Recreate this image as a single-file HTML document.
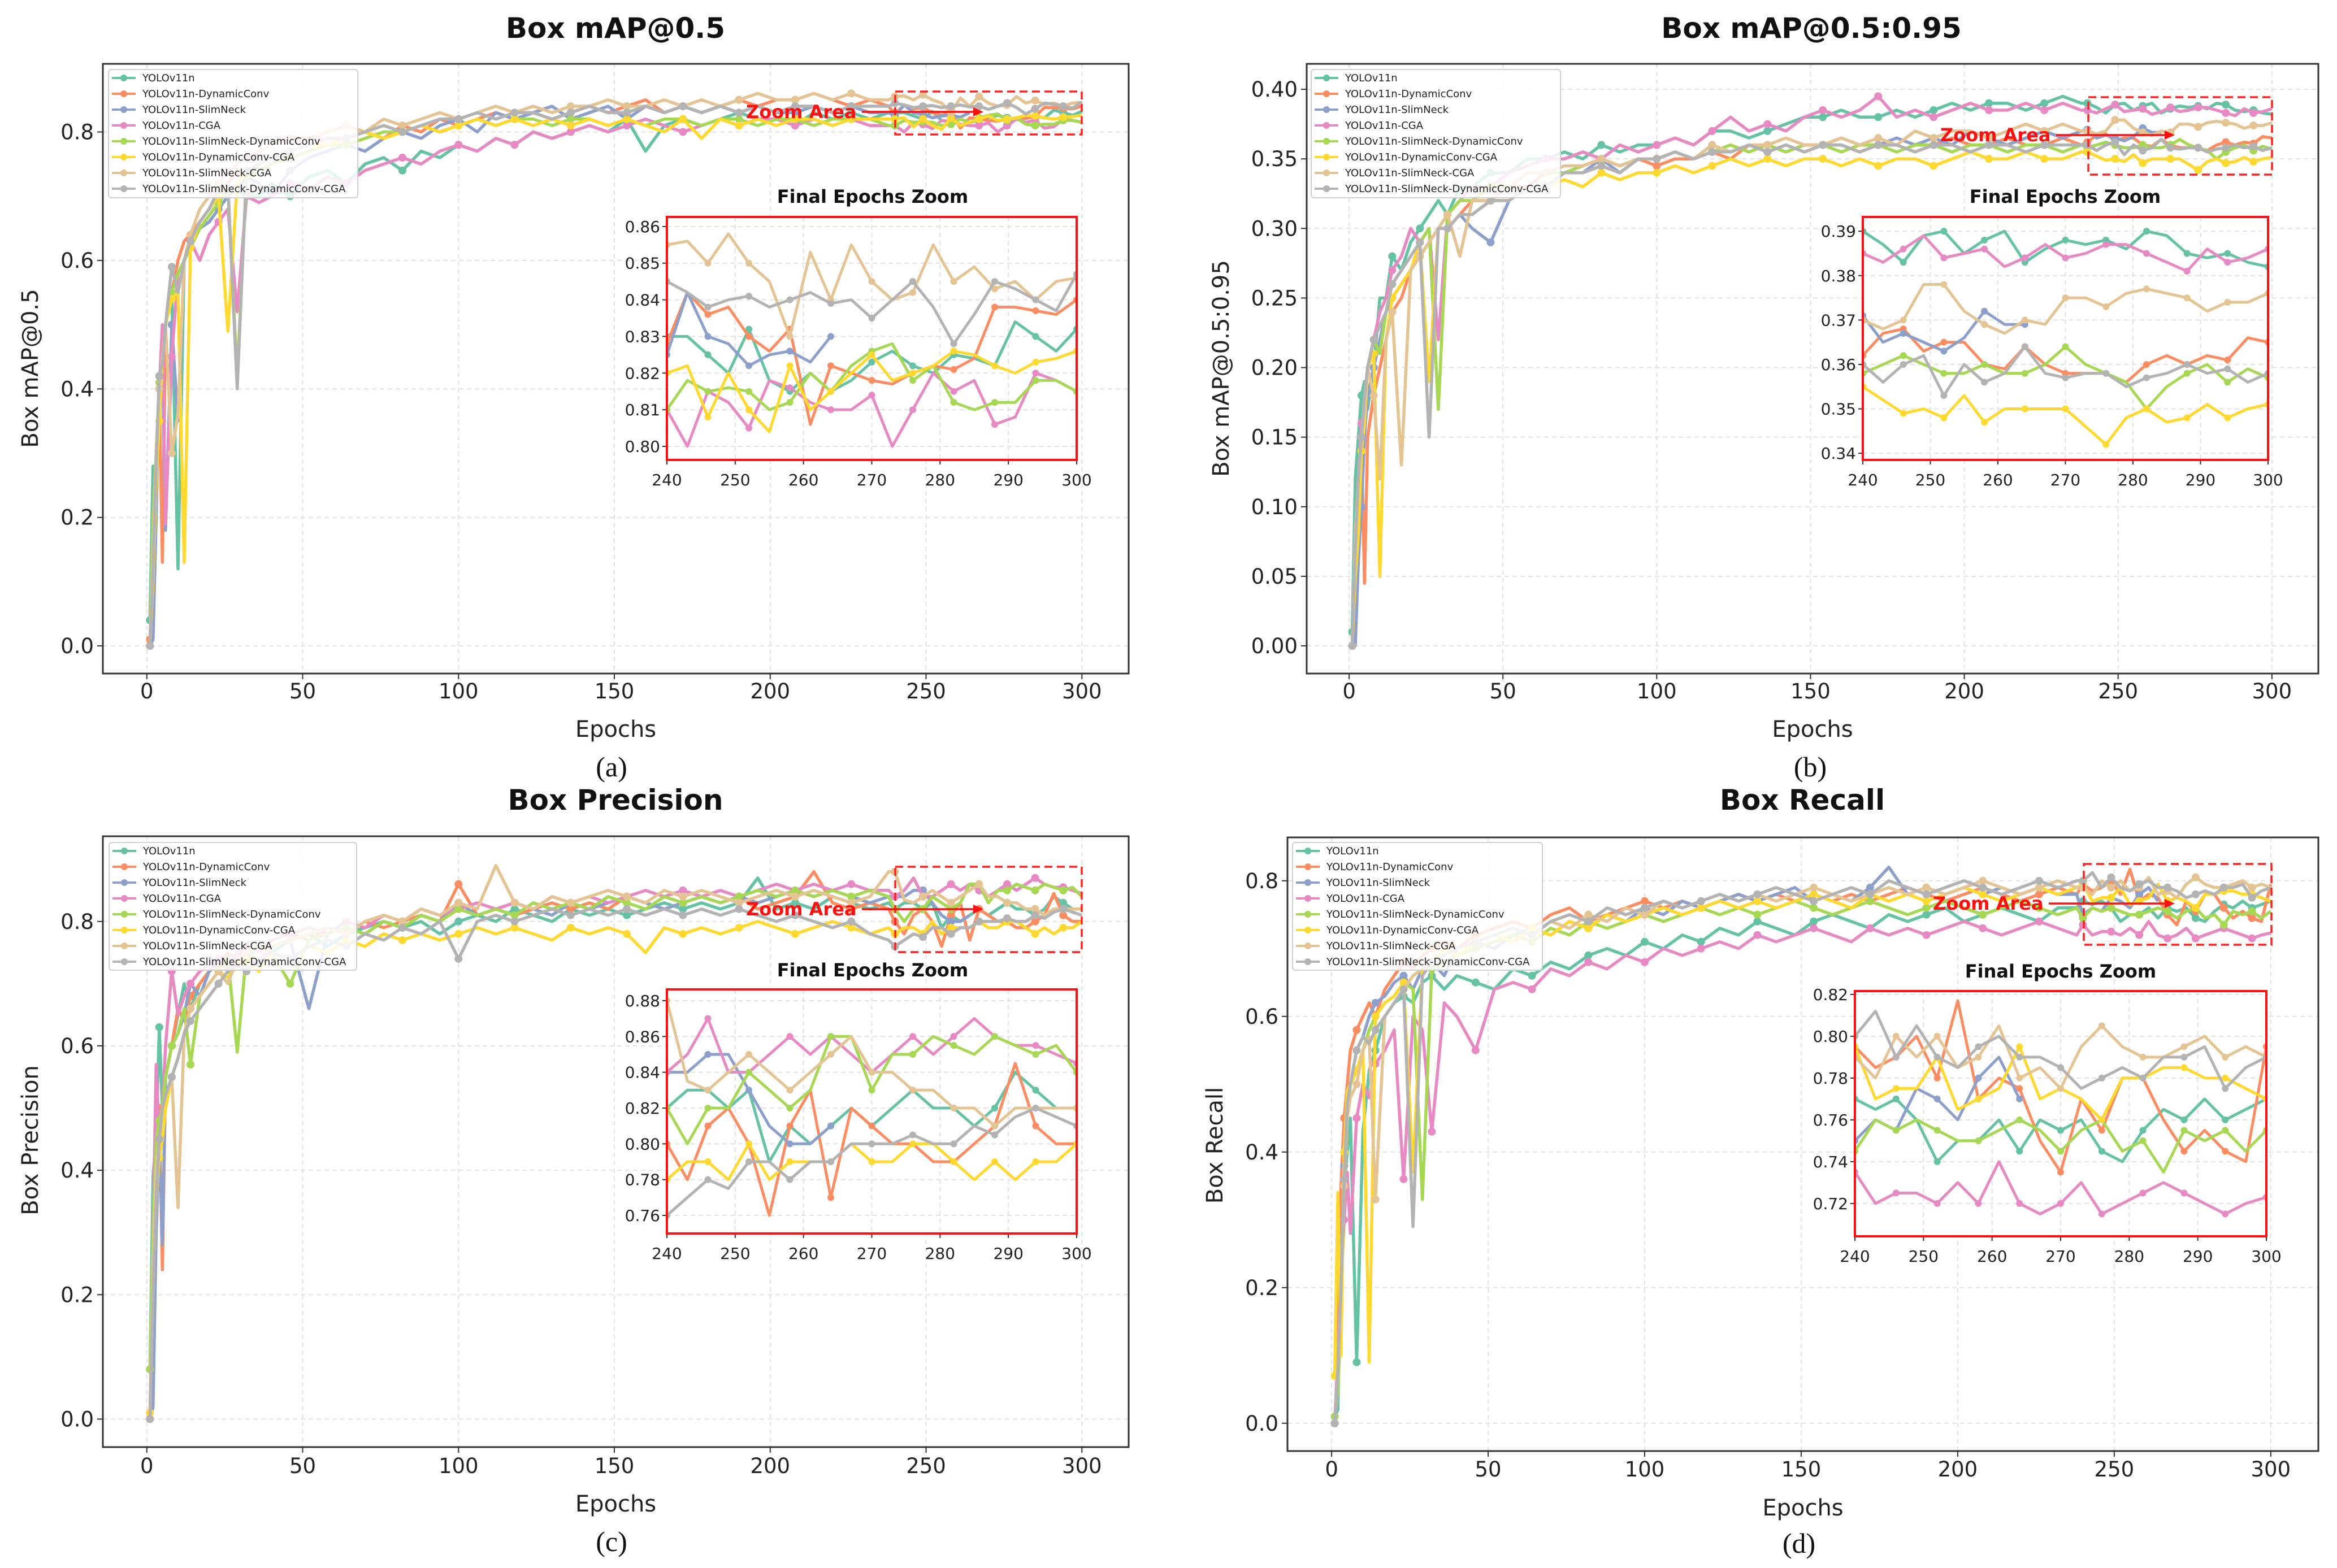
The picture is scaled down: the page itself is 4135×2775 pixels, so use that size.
<!DOCTYPE html>
<html><head><meta charset="utf-8"><style>
html,body{margin:0;padding:0;background:#fff;}
svg{display:block;font-family:"DejaVu Sans","Liberation Sans",sans-serif;}
</style></head><body>
<svg id="fig" width="4135" height="2775" viewBox="0 0 4135 2775" xmlns="http://www.w3.org/2000/svg"></svg>
<script>
const seriesNames = ["YOLOv11n","YOLOv11n-DynamicConv","YOLOv11n-SlimNeck","YOLOv11n-CGA","YOLOv11n-SlimNeck-DynamicConv","YOLOv11n-DynamicConv-CGA","YOLOv11n-SlimNeck-CGA","YOLOv11n-SlimNeck-DynamicConv-CGA"];
const seriesColors = ["#66c2a5","#fc8d62","#8da0cb","#e78ac3","#a6d854","#ffd92f","#e5c494","#b3b3b3"];
const mainEpochs = [1,2,3,4,5,6,8,10,12,14,17,20,23,26,29,32,36,40,46,52,58,64,70,76,82,88,94,100,106,112,118,124,130,136,142,148,154,160,166,172,178,184,190,196,202,208,214,220,226,232,238];
const zoomEpochs = [240,243,246,249,252,255,258,261,264,267,270,273,276,279,282,285,288,291,294,297,300];

const map50Main = [
[0.04,0.28,0.2,0.42,0.45,0.5,0.55,0.12,0.6,0.62,0.65,0.66,0.68,0.7,0.71,0.7,0.7,0.72,0.7,0.73,0.74,0.72,0.75,0.76,0.74,0.77,0.76,0.78,0.77,0.79,0.78,0.8,0.79,0.8,0.81,0.8,0.82,0.77,0.81,0.82,0.81,0.82,0.83,0.82,0.82,0.81,0.83,0.82,0.83,0.82,0.83],
[0.01,0.1,0.3,0.4,0.13,0.5,0.55,0.6,0.63,0.64,0.66,0.68,0.7,0.72,0.74,0.73,0.75,0.76,0.77,0.78,0.78,0.79,0.8,0.79,0.81,0.8,0.82,0.81,0.82,0.83,0.82,0.83,0.82,0.83,0.84,0.83,0.84,0.85,0.83,0.84,0.83,0.84,0.85,0.84,0.85,0.85,0.86,0.85,0.84,0.85,0.84],
[0.0,0.01,0.2,0.42,0.44,0.18,0.5,0.35,0.6,0.62,0.65,0.66,0.68,0.7,0.71,0.73,0.72,0.7,0.74,0.76,0.77,0.78,0.77,0.79,0.8,0.79,0.81,0.82,0.8,0.83,0.82,0.83,0.84,0.82,0.83,0.84,0.82,0.84,0.83,0.84,0.83,0.84,0.83,0.84,0.83,0.83,0.84,0.83,0.84,0.83,0.83],
[0.0,0.15,0.3,0.4,0.5,0.19,0.45,0.58,0.6,0.63,0.6,0.64,0.66,0.68,0.52,0.7,0.69,0.7,0.72,0.71,0.73,0.72,0.74,0.75,0.76,0.75,0.77,0.78,0.77,0.79,0.78,0.8,0.79,0.8,0.81,0.8,0.81,0.82,0.81,0.8,0.81,0.82,0.81,0.82,0.82,0.81,0.82,0.81,0.82,0.81,0.81],
[0.0,0.2,0.3,0.41,0.44,0.5,0.55,0.58,0.6,0.62,0.65,0.67,0.69,0.71,0.42,0.73,0.74,0.75,0.76,0.77,0.78,0.78,0.79,0.8,0.8,0.81,0.8,0.81,0.82,0.81,0.82,0.82,0.81,0.82,0.82,0.81,0.82,0.81,0.82,0.82,0.81,0.82,0.82,0.81,0.82,0.82,0.81,0.82,0.82,0.82,0.81],
[0.0,0.1,0.25,0.35,0.45,0.5,0.54,0.55,0.13,0.62,0.66,0.68,0.7,0.49,0.72,0.74,0.75,0.76,0.77,0.78,0.78,0.79,0.8,0.79,0.8,0.81,0.8,0.81,0.82,0.81,0.82,0.81,0.82,0.81,0.82,0.81,0.82,0.81,0.8,0.82,0.79,0.82,0.81,0.82,0.81,0.82,0.82,0.81,0.82,0.82,0.82],
[0.0,0.15,0.3,0.4,0.45,0.5,0.3,0.36,0.6,0.64,0.68,0.7,0.72,0.74,0.75,0.76,0.77,0.78,0.79,0.79,0.8,0.81,0.8,0.82,0.81,0.82,0.83,0.82,0.83,0.84,0.83,0.84,0.83,0.84,0.84,0.85,0.84,0.84,0.85,0.84,0.85,0.84,0.85,0.86,0.85,0.85,0.86,0.85,0.86,0.85,0.85],
[0.0,0.12,0.28,0.42,0.44,0.5,0.59,0.55,0.6,0.63,0.66,0.68,0.71,0.72,0.4,0.74,0.75,0.76,0.77,0.78,0.79,0.79,0.8,0.81,0.8,0.81,0.82,0.82,0.83,0.82,0.83,0.83,0.82,0.83,0.84,0.83,0.83,0.84,0.83,0.84,0.83,0.84,0.83,0.84,0.83,0.84,0.84,0.83,0.84,0.84,0.84]];
const map50Zoom = [
[0.83,0.83,0.825,0.82,0.832,0.818,0.815,0.82,0.815,0.818,0.823,0.826,0.822,0.82,0.825,0.824,0.822,0.834,0.83,0.826,0.832],
[0.828,0.842,0.836,0.838,0.83,0.826,0.832,0.806,0.822,0.82,0.818,0.817,0.82,0.822,0.821,0.824,0.838,0.838,0.837,0.836,0.84],
[0.825,0.842,0.83,0.828,0.822,0.825,0.826,0.823,0.83],
[0.81,0.8,0.815,0.812,0.805,0.818,0.816,0.812,0.81,0.81,0.814,0.8,0.81,0.82,0.815,0.818,0.806,0.808,0.82,0.818,0.815],
[0.81,0.818,0.815,0.816,0.815,0.81,0.812,0.82,0.815,0.822,0.826,0.828,0.818,0.822,0.812,0.81,0.812,0.812,0.818,0.818,0.815],
[0.82,0.822,0.808,0.82,0.81,0.804,0.822,0.81,0.815,0.82,0.825,0.818,0.82,0.822,0.826,0.825,0.822,0.82,0.823,0.824,0.826],
[0.855,0.856,0.85,0.858,0.85,0.845,0.83,0.853,0.84,0.855,0.845,0.84,0.842,0.855,0.845,0.849,0.843,0.845,0.84,0.845,0.846],
[0.845,0.842,0.838,0.84,0.841,0.838,0.84,0.842,0.839,0.84,0.835,0.84,0.845,0.838,0.828,0.836,0.845,0.843,0.84,0.837,0.847]];

const map5095Main = [
[0.01,0.12,0.15,0.18,0.19,0.17,0.2,0.25,0.25,0.28,0.27,0.29,0.3,0.31,0.32,0.31,0.33,0.33,0.34,0.34,0.35,0.35,0.355,0.35,0.36,0.355,0.36,0.36,0.365,0.36,0.37,0.37,0.365,0.37,0.375,0.38,0.38,0.385,0.38,0.38,0.385,0.38,0.385,0.39,0.385,0.39,0.39,0.385,0.39,0.395,0.39],
[0.0,0.04,0.1,0.15,0.045,0.15,0.18,0.2,0.22,0.24,0.25,0.27,0.28,0.29,0.3,0.3,0.31,0.32,0.32,0.33,0.33,0.34,0.34,0.34,0.345,0.34,0.35,0.345,0.35,0.35,0.355,0.35,0.36,0.355,0.36,0.355,0.36,0.36,0.355,0.36,0.36,0.355,0.36,0.365,0.36,0.36,0.365,0.36,0.36,0.365,0.36],
[0.0,0.0,0.06,0.1,0.15,0.18,0.2,0.22,0.24,0.25,0.26,0.27,0.28,0.29,0.3,0.3,0.31,0.3,0.29,0.32,0.33,0.33,0.34,0.34,0.35,0.34,0.35,0.35,0.355,0.35,0.36,0.355,0.36,0.36,0.355,0.36,0.36,0.365,0.36,0.36,0.365,0.36,0.365,0.36,0.37,0.365,0.36,0.365,0.37,0.365,0.37],
[0.0,0.08,0.12,0.16,0.17,0.2,0.22,0.24,0.25,0.27,0.28,0.3,0.29,0.3,0.22,0.31,0.32,0.33,0.33,0.34,0.345,0.35,0.35,0.355,0.35,0.36,0.355,0.36,0.365,0.36,0.37,0.38,0.37,0.375,0.37,0.38,0.385,0.38,0.385,0.395,0.38,0.385,0.38,0.385,0.39,0.385,0.385,0.39,0.385,0.39,0.385],
[0.0,0.05,0.1,0.15,0.17,0.2,0.22,0.21,0.24,0.26,0.27,0.28,0.29,0.3,0.17,0.31,0.32,0.32,0.33,0.33,0.34,0.34,0.34,0.345,0.35,0.345,0.35,0.35,0.355,0.35,0.355,0.36,0.355,0.36,0.355,0.36,0.36,0.355,0.36,0.36,0.355,0.36,0.36,0.355,0.36,0.36,0.355,0.36,0.36,0.355,0.36],
[0.0,0.05,0.08,0.14,0.16,0.2,0.21,0.05,0.22,0.25,0.26,0.27,0.29,0.19,0.3,0.3,0.31,0.31,0.32,0.32,0.33,0.33,0.335,0.33,0.34,0.335,0.34,0.34,0.345,0.34,0.345,0.35,0.345,0.35,0.345,0.35,0.35,0.345,0.35,0.345,0.35,0.35,0.345,0.35,0.355,0.35,0.35,0.355,0.35,0.35,0.355],
[0.0,0.08,0.12,0.15,0.17,0.2,0.18,0.12,0.22,0.24,0.13,0.27,0.28,0.29,0.3,0.31,0.28,0.32,0.32,0.33,0.34,0.34,0.345,0.345,0.35,0.345,0.35,0.35,0.355,0.35,0.36,0.355,0.36,0.36,0.365,0.36,0.36,0.365,0.36,0.365,0.36,0.37,0.365,0.37,0.37,0.365,0.37,0.375,0.37,0.375,0.37],
[0.0,0.07,0.12,0.15,0.18,0.2,0.22,0.23,0.24,0.26,0.27,0.28,0.29,0.15,0.3,0.3,0.31,0.31,0.32,0.32,0.33,0.33,0.34,0.34,0.345,0.34,0.35,0.35,0.355,0.35,0.355,0.355,0.36,0.355,0.36,0.355,0.36,0.36,0.355,0.36,0.36,0.355,0.36,0.36,0.355,0.36,0.36,0.355,0.36,0.36,0.36]];
const map5095Zoom = [
[0.39,0.387,0.383,0.389,0.39,0.385,0.388,0.39,0.383,0.386,0.388,0.387,0.388,0.386,0.39,0.389,0.385,0.384,0.385,0.383,0.382],
[0.362,0.367,0.368,0.363,0.365,0.365,0.36,0.359,0.364,0.36,0.358,0.358,0.358,0.356,0.36,0.362,0.36,0.362,0.361,0.366,0.365],
[0.371,0.365,0.367,0.365,0.363,0.366,0.372,0.369,0.369],
[0.385,0.383,0.386,0.389,0.384,0.385,0.386,0.382,0.384,0.387,0.384,0.385,0.387,0.387,0.385,0.383,0.381,0.386,0.383,0.384,0.386],
[0.358,0.36,0.362,0.36,0.358,0.358,0.36,0.358,0.358,0.36,0.364,0.36,0.358,0.356,0.35,0.355,0.358,0.36,0.356,0.359,0.357],
[0.355,0.352,0.349,0.35,0.348,0.353,0.347,0.35,0.35,0.35,0.35,0.346,0.342,0.348,0.35,0.347,0.348,0.351,0.348,0.35,0.351],
[0.37,0.368,0.37,0.378,0.378,0.372,0.369,0.367,0.37,0.369,0.375,0.375,0.373,0.376,0.377,0.376,0.375,0.372,0.374,0.374,0.376],
[0.36,0.356,0.36,0.362,0.353,0.36,0.356,0.358,0.364,0.358,0.357,0.358,0.358,0.355,0.357,0.358,0.36,0.358,0.359,0.356,0.358]];

const precMain = [
[0.08,0.39,0.45,0.63,0.5,0.55,0.6,0.65,0.7,0.66,0.7,0.72,0.74,0.73,0.75,0.74,0.76,0.75,0.77,0.78,0.76,0.78,0.79,0.8,0.79,0.8,0.78,0.8,0.81,0.8,0.82,0.81,0.8,0.82,0.81,0.82,0.81,0.82,0.83,0.82,0.83,0.82,0.83,0.87,0.82,0.83,0.82,0.84,0.83,0.82,0.83],
[0.01,0.2,0.4,0.5,0.24,0.55,0.6,0.66,0.64,0.68,0.7,0.72,0.73,0.75,0.74,0.76,0.75,0.77,0.78,0.77,0.79,0.78,0.8,0.79,0.8,0.81,0.8,0.86,0.81,0.82,0.81,0.82,0.83,0.82,0.83,0.82,0.84,0.83,0.82,0.83,0.84,0.83,0.84,0.82,0.83,0.84,0.88,0.83,0.82,0.83,0.82],
[0.0,0.02,0.3,0.45,0.28,0.55,0.6,0.62,0.65,0.7,0.68,0.72,0.74,0.73,0.75,0.74,0.73,0.76,0.77,0.66,0.78,0.79,0.78,0.8,0.79,0.81,0.8,0.83,0.81,0.82,0.83,0.82,0.81,0.83,0.82,0.83,0.84,0.83,0.82,0.83,0.84,0.83,0.84,0.83,0.84,0.85,0.84,0.85,0.84,0.83,0.84],
[0.0,0.3,0.57,0.45,0.5,0.6,0.72,0.65,0.68,0.7,0.72,0.73,0.74,0.72,0.75,0.76,0.75,0.77,0.78,0.79,0.78,0.8,0.79,0.81,0.8,0.82,0.81,0.82,0.83,0.82,0.83,0.82,0.84,0.83,0.84,0.83,0.84,0.85,0.84,0.85,0.84,0.85,0.84,0.85,0.86,0.85,0.86,0.85,0.86,0.85,0.85],
[0.08,0.3,0.45,0.48,0.5,0.55,0.6,0.62,0.66,0.57,0.68,0.7,0.72,0.74,0.59,0.75,0.76,0.75,0.7,0.77,0.78,0.79,0.78,0.8,0.79,0.81,0.8,0.82,0.81,0.82,0.81,0.83,0.82,0.83,0.82,0.84,0.83,0.82,0.84,0.83,0.84,0.83,0.84,0.85,0.84,0.85,0.84,0.85,0.84,0.85,0.84],
[0.01,0.2,0.35,0.42,0.45,0.5,0.55,0.58,0.62,0.66,0.68,0.7,0.72,0.71,0.73,0.74,0.72,0.75,0.74,0.76,0.75,0.77,0.76,0.78,0.77,0.78,0.77,0.78,0.79,0.78,0.79,0.78,0.77,0.79,0.78,0.79,0.78,0.75,0.79,0.78,0.79,0.78,0.79,0.8,0.79,0.78,0.79,0.8,0.79,0.78,0.79],
[0.0,0.25,0.4,0.45,0.5,0.52,0.55,0.34,0.62,0.66,0.68,0.7,0.72,0.7,0.74,0.75,0.74,0.76,0.77,0.78,0.79,0.78,0.8,0.81,0.8,0.82,0.81,0.83,0.82,0.89,0.83,0.82,0.84,0.83,0.84,0.85,0.84,0.83,0.85,0.84,0.85,0.84,0.83,0.84,0.85,0.84,0.85,0.84,0.83,0.84,0.88],
[0.0,0.2,0.35,0.45,0.5,0.52,0.55,0.58,0.62,0.64,0.66,0.68,0.7,0.72,0.73,0.72,0.74,0.75,0.74,0.76,0.77,0.76,0.78,0.77,0.79,0.78,0.8,0.74,0.8,0.81,0.8,0.81,0.82,0.81,0.82,0.81,0.82,0.81,0.82,0.81,0.82,0.81,0.82,0.81,0.8,0.81,0.8,0.79,0.8,0.78,0.77]];
const precZoom = [
[0.82,0.83,0.83,0.82,0.83,0.79,0.81,0.8,0.81,0.82,0.81,0.82,0.83,0.82,0.82,0.81,0.82,0.84,0.83,0.82,0.82],
[0.8,0.78,0.81,0.82,0.8,0.76,0.81,0.83,0.77,0.82,0.81,0.8,0.8,0.79,0.79,0.8,0.81,0.845,0.81,0.8,0.8],
[0.84,0.84,0.85,0.85,0.83,0.81,0.8,0.8,0.81],
[0.84,0.85,0.87,0.84,0.84,0.85,0.86,0.85,0.86,0.85,0.84,0.85,0.86,0.85,0.86,0.87,0.86,0.855,0.855,0.85,0.845],
[0.82,0.8,0.82,0.82,0.84,0.83,0.82,0.83,0.86,0.86,0.83,0.85,0.85,0.86,0.855,0.85,0.86,0.855,0.85,0.855,0.84],
[0.78,0.79,0.79,0.78,0.8,0.78,0.79,0.79,0.79,0.8,0.79,0.79,0.8,0.8,0.79,0.78,0.79,0.78,0.79,0.79,0.8],
[0.88,0.835,0.83,0.84,0.85,0.84,0.83,0.84,0.85,0.86,0.84,0.84,0.83,0.83,0.82,0.82,0.81,0.82,0.82,0.82,0.82],
[0.76,0.77,0.78,0.775,0.79,0.79,0.78,0.79,0.79,0.8,0.8,0.8,0.805,0.8,0.8,0.81,0.805,0.815,0.82,0.815,0.81]];

const recMain = [
[0.01,0.02,0.3,0.35,0.4,0.45,0.09,0.43,0.52,0.55,0.6,0.62,0.63,0.62,0.65,0.66,0.64,0.66,0.65,0.64,0.67,0.66,0.68,0.67,0.69,0.7,0.69,0.71,0.7,0.72,0.71,0.73,0.72,0.74,0.73,0.72,0.74,0.75,0.74,0.73,0.75,0.74,0.75,0.76,0.74,0.75,0.76,0.75,0.74,0.76,0.76],
[0.0,0.1,0.35,0.45,0.5,0.55,0.58,0.6,0.62,0.6,0.64,0.66,0.68,0.67,0.69,0.7,0.71,0.7,0.72,0.73,0.74,0.73,0.75,0.76,0.74,0.75,0.76,0.77,0.76,0.77,0.76,0.77,0.78,0.77,0.78,0.77,0.78,0.77,0.78,0.77,0.78,0.79,0.78,0.77,0.78,0.79,0.78,0.77,0.78,0.79,0.78],
[0.0,0.05,0.2,0.38,0.45,0.5,0.55,0.57,0.6,0.62,0.63,0.65,0.66,0.64,0.67,0.68,0.66,0.7,0.71,0.7,0.72,0.73,0.72,0.74,0.73,0.75,0.74,0.76,0.75,0.77,0.76,0.77,0.78,0.77,0.78,0.79,0.77,0.78,0.77,0.79,0.82,0.78,0.79,0.78,0.79,0.78,0.79,0.78,0.79,0.78,0.78],
[0.0,0.1,0.2,0.3,0.37,0.28,0.45,0.5,0.48,0.53,0.55,0.58,0.36,0.6,0.58,0.43,0.62,0.6,0.55,0.64,0.65,0.64,0.67,0.66,0.68,0.67,0.69,0.68,0.7,0.69,0.7,0.71,0.7,0.72,0.71,0.72,0.73,0.72,0.71,0.73,0.72,0.73,0.72,0.73,0.74,0.73,0.72,0.73,0.74,0.73,0.72],
[0.01,0.05,0.15,0.35,0.45,0.5,0.52,0.55,0.58,0.6,0.62,0.63,0.65,0.64,0.33,0.67,0.68,0.69,0.7,0.71,0.72,0.71,0.73,0.72,0.74,0.73,0.74,0.75,0.74,0.75,0.76,0.75,0.76,0.75,0.76,0.77,0.76,0.75,0.76,0.77,0.76,0.75,0.76,0.77,0.76,0.75,0.76,0.77,0.76,0.75,0.76],
[0.07,0.34,0.1,0.4,0.49,0.5,0.52,0.55,0.09,0.6,0.62,0.63,0.65,0.37,0.67,0.68,0.7,0.69,0.71,0.72,0.71,0.73,0.72,0.74,0.73,0.75,0.74,0.75,0.76,0.75,0.76,0.77,0.76,0.77,0.76,0.77,0.78,0.77,0.76,0.78,0.77,0.78,0.77,0.78,0.79,0.78,0.77,0.78,0.79,0.78,0.79],
[0.0,0.08,0.2,0.35,0.45,0.48,0.5,0.55,0.57,0.33,0.6,0.62,0.64,0.66,0.67,0.68,0.69,0.7,0.71,0.72,0.73,0.72,0.74,0.73,0.75,0.74,0.76,0.75,0.77,0.76,0.77,0.78,0.77,0.78,0.77,0.78,0.79,0.78,0.77,0.78,0.79,0.78,0.79,0.78,0.79,0.8,0.79,0.78,0.79,0.8,0.79],
[0.0,0.08,0.2,0.36,0.47,0.5,0.55,0.57,0.56,0.58,0.6,0.62,0.64,0.29,0.66,0.68,0.69,0.7,0.71,0.72,0.73,0.72,0.74,0.75,0.74,0.76,0.75,0.76,0.77,0.76,0.77,0.78,0.77,0.78,0.79,0.78,0.77,0.78,0.79,0.78,0.8,0.79,0.78,0.79,0.8,0.79,0.78,0.79,0.8,0.79,0.8]];
const recZoom = [
[0.77,0.765,0.77,0.76,0.74,0.75,0.75,0.76,0.745,0.76,0.755,0.76,0.745,0.74,0.755,0.765,0.76,0.77,0.76,0.765,0.77],
[0.795,0.785,0.79,0.8,0.78,0.817,0.77,0.78,0.775,0.75,0.735,0.77,0.755,0.78,0.78,0.76,0.745,0.755,0.745,0.74,0.795],
[0.75,0.76,0.755,0.775,0.77,0.76,0.78,0.79,0.77],
[0.735,0.72,0.725,0.725,0.72,0.73,0.72,0.74,0.72,0.715,0.72,0.73,0.715,0.72,0.725,0.73,0.725,0.72,0.715,0.72,0.723],
[0.745,0.76,0.755,0.76,0.755,0.75,0.75,0.755,0.76,0.755,0.745,0.755,0.76,0.745,0.75,0.735,0.755,0.75,0.755,0.745,0.755],
[0.795,0.77,0.775,0.775,0.79,0.765,0.77,0.775,0.795,0.77,0.775,0.77,0.76,0.78,0.78,0.785,0.785,0.78,0.78,0.775,0.77],
[0.79,0.78,0.8,0.79,0.8,0.785,0.79,0.805,0.78,0.785,0.775,0.795,0.805,0.795,0.79,0.79,0.795,0.8,0.79,0.795,0.79],
[0.8,0.812,0.79,0.805,0.79,0.785,0.795,0.8,0.79,0.79,0.785,0.775,0.78,0.785,0.78,0.79,0.79,0.795,0.775,0.785,0.79]];

const xTicks = [0,50,100,150,200,250,300];
const zoomXTicks = [240,250,260,270,280,290,300];
const map50YTicks = [0.0,0.2,0.4,0.6,0.8];
const map5095YTicks = [0.00,0.05,0.10,0.15,0.20,0.25,0.30,0.35,0.40];
const precYTicks = [0.0,0.2,0.4,0.6,0.8];
const recYTicks = [0.0,0.2,0.4,0.6,0.8];
const map50ZoomYTicks = [0.80,0.81,0.82,0.83,0.84,0.85,0.86];
const map5095ZoomYTicks = [0.34,0.35,0.36,0.37,0.38,0.39];
const precZoomYTicks = [0.76,0.78,0.80,0.82,0.84,0.86,0.88];
const recZoomYTicks = [0.72,0.74,0.76,0.78,0.80,0.82];

const NS = "http://www.w3.org/2000/svg";
const fig = document.getElementById("fig");
function mk(tag, attrs, parent, text){
  const e = document.createElementNS(NS, tag);
  for (const k in attrs) e.setAttribute(k, attrs[k]);
  if (text !== undefined) e.textContent = text;
  (parent || fig).appendChild(e);
  return e;
}

const panels = [
 {key:"map50", title:"Box mAP@0.5", ylabel:"Box mAP@0.5", sub:"(a)", main:map50Main, zoom:map50Zoom, yt:map50YTicks, zyt:map50ZoomYTicks, dec:1, zdec:2,
  L:182,R:1997,T:113,B:1192, xmin:-14.1,xmax:315, ymin:-0.043,ymax:0.906,
  iL:1180,iR:1905,iT:384,iB:814, iymin:0.7963, iymax:0.8626,
  zr:[1584,162,1914,238], zt:[1320,198], za:[1525,1740], titleX:1089,titleY:49, tickY:1223, xlabY:1290, subX:1082, subY:1357, ylabX:53, ylabY:652, itX:1544, itY:348,
  leg:[192,123,633,350]},
 {key:"map5095", title:"Box mAP@0.5:0.95", ylabel:"Box mAP@0.5:0.95", sub:"(b)", main:map5095Main, zoom:map5095Zoom, yt:map5095YTicks, zyt:map5095ZoomYTicks, dec:2, zdec:2,
  L:2312,R:4102,T:113,B:1192, xmin:-13.8,xmax:315.1, ymin:-0.0199,ymax:0.4183,
  iL:3296,iR:4013,iT:384,iB:814, iymin:0.3385, iymax:0.3932,
  zr:[3695,172,4020,309], zt:[3433,239], za:[3638,3848], titleX:3205,titleY:49, tickY:1223, xlabY:1290, subX:3203, subY:1357, ylabX:2160, ylabY:652, itX:3654, itY:348,
  leg:[2320,123,2761,350]},
 {key:"prec", title:"Box Precision", ylabel:"Box Precision", sub:"(c)", main:precMain, zoom:precZoom, yt:precYTicks, zyt:precZoomYTicks, dec:1, zdec:2,
  L:182,R:1997,T:1480,B:2561, xmin:-14.1,xmax:315, ymin:-0.045,ymax:0.937,
  iL:1180,iR:1905,iT:1751,iB:2183, iymin:0.7499, iymax:0.8863,
  zr:[1584,1534,1914,1685], zt:[1320,1609], za:[1525,1740], titleX:1089,titleY:1415, tickY:2594, xlabY:2661, subX:1082, subY:2728, ylabX:53, ylabY:2018, itX:1544, itY:1717,
  leg:[193,1491,631,1717]},
 {key:"rec", title:"Box Recall", ylabel:"Box Recall", sub:"(d)", main:recMain, zoom:recZoom, yt:recYTicks, zyt:recZoomYTicks, dec:1, zdec:2,
  L:2278,R:4102,T:1482,B:2568, xmin:-14.1,xmax:315.2, ymin:-0.041,ymax:0.864,
  iL:3282,iR:4010,iT:1754,iB:2188, iymin:0.7043, iymax:0.8216,
  zr:[3687,1529,4019,1672], zt:[3420,1599], za:[3625,3848], titleX:3189,titleY:1415, tickY:2600, xlabY:2668, subX:3183, subY:2731, ylabX:2149, ylabY:2027, itX:3646, itY:1719,
  leg:[2287,1491,2729,1717]}
];

function pathFrom(xs, ys, sx, sy){
  let d = "";
  for (let i=0;i<ys.length;i++){ d += (i?"L":"M") + sx(xs[i]).toFixed(1) + "," + sy(ys[i]).toFixed(1); }
  return d;
}

panels.forEach(p => {
  const g = mk("g", {});
  
  
  const sx = v => p.L + (v - p.xmin) / (p.xmax - p.xmin) * (p.R - p.L);
  const sy = v => p.B - (v - p.ymin) / (p.ymax - p.ymin) * (p.B - p.T);
  const clipId = "clip-" + p.key;
  const cp = mk("clipPath", {id: clipId}, g);
  mk("rect", {x:p.L, y:p.T, width:p.R-p.L, height:p.B-p.T}, cp);

  xTicks.forEach(t => {
    const l = mk("line", {x1:sx(t), x2:sx(t), y1:p.T, y2:p.B, stroke:"#e2e2e2", "stroke-width":2, "stroke-dasharray":"8,6"}, g);
    
    
  });
  p.yt.forEach(t => {
    const l = mk("line", {x1:p.L, x2:p.R, y1:sy(t), y2:sy(t), stroke:"#e2e2e2", "stroke-width":2, "stroke-dasharray":"8,6"}, g);
    
    
  });

  const sg = mk("g", {"clip-path":"url(#"+clipId+")"}, g);
  p.main.forEach((vals, si) => {
    const z = p.zoom[si];
    const xs = mainEpochs.concat(zoomEpochs.slice(0, z.length));
    const ys = vals.concat(z);
    const path = mk("path", {d:pathFrom(xs, ys, sx, sy), fill:"none", stroke:seriesColors[si], "stroke-width":5.5, "stroke-linejoin":"round"}, sg);
    
    
    for (let i=0;i<xs.length;i+=3){
      const c = mk("circle", {cx:sx(xs[i]), cy:sy(ys[i]), r:7, fill:seriesColors[si]}, sg);
      
      
    }
  });

  const fr = mk("rect", {x:p.L, y:p.T, width:p.R-p.L, height:p.B-p.T, fill:"none", stroke:"#333", "stroke-width":3}, g);
  
  

  xTicks.forEach(t => {
    mk("line", {x1:sx(t), x2:sx(t), y1:p.B, y2:p.B+10, stroke:"#333", "stroke-width":2}, g);
    const tx = mk("text", {x:sx(t), y:p.tickY+13, "font-size":37, "text-anchor":"middle", fill:"#222"}, g, String(t));
    
    
  });
  p.yt.forEach(t => {
    mk("line", {x1:p.L-10, x2:p.L, y1:sy(t), y2:sy(t), stroke:"#333", "stroke-width":2}, g);
    const tx = mk("text", {x:p.L-16, y:sy(t)+13, "font-size":37, "text-anchor":"end", fill:"#222"}, g, t.toFixed(p.dec));
    
    
  });

  const ti = mk("text", {x:p.titleX, y:p.titleY+18, "font-size":50, "font-weight":"bold", "text-anchor":"middle", fill:"#111"}, g, p.title);
  
  
  const xl = mk("text", {x:(p.L+p.R)/2, y:p.xlabY+14, "font-size":40, "text-anchor":"middle", fill:"#222"}, g, "Epochs");
  
  
  const yl = mk("text", {x:p.ylabX, y:p.ylabY, "font-size":40, "text-anchor":"middle", fill:"#222", transform:"rotate(-90 "+p.ylabX+" "+p.ylabY+")", dy:14}, g, p.ylabel);
  
  
  const sl = mk("text", {x:p.subX, y:p.subY+17, "font-size":50, "text-anchor":"middle", fill:"#111", "font-family":"Liberation Serif, serif"}, g, p.sub);
  
  

  const zr = mk("rect", {x:p.zr[0], y:p.zr[1], width:p.zr[2]-p.zr[0], height:p.zr[3]-p.zr[1], fill:"none", stroke:"#ff2020", "stroke-width":3.5, "stroke-dasharray":"14,8"}, g);
  
  
  const zt = mk("text", {x:p.zt[0], y:p.zt[1]+11, "font-size":32, "font-weight":"bold", fill:"#ff1010"}, g, "Zoom Area");
  
  
  const ar = mk("line", {x1:p.za[0], y1:p.zt[1], x2:p.za[1]-14, y2:p.zt[1], stroke:"#ff1010", "stroke-width":3.5}, g);
  
  
  mk("path", {d:"M"+p.za[1]+","+p.zt[1]+" l-18,-8 l0,16 z", fill:"#ff1010"}, g);

  const lg = mk("g", {}, g);
  
  
  mk("rect", {x:p.leg[0], y:p.leg[1], width:p.leg[2]-p.leg[0], height:p.leg[3]-p.leg[1], rx:5, fill:"#fff", "fill-opacity":0.85, stroke:"#d0d0d0", "stroke-width":2}, lg);
  seriesNames.forEach((n, i) => {
    const yy = p.leg[1] + 15 + i*28;
    const e = mk("g", {}, lg);
    
    
    mk("line", {x1:p.leg[0]+6, x2:p.leg[0]+48, y1:yy, y2:yy, stroke:seriesColors[i], "stroke-width":4}, e);
    mk("circle", {cx:p.leg[0]+27, cy:yy, r:6, fill:seriesColors[i]}, e);
    mk("text", {x:p.leg[0]+60, y:yy+6, "font-size":18, fill:"#222"}, e, n);
  });

  const ig = mk("g", {}, g);
  
  
  const ix = v => p.iL + (v - 240) / 60 * (p.iR - p.iL);
  const iy = v => p.iB - (v - p.iymin) / (p.iymax - p.iymin) * (p.iB - p.iT);
  mk("rect", {x:p.iL, y:p.iT, width:p.iR-p.iL, height:p.iB-p.iT, fill:"#fff"}, ig);
  const icId = "iclip-" + p.key;
  const icp = mk("clipPath", {id: icId}, ig);
  mk("rect", {x:p.iL, y:p.iT, width:p.iR-p.iL, height:p.iB-p.iT}, icp);
  zoomXTicks.forEach(t => {
    mk("line", {x1:ix(t), x2:ix(t), y1:p.iT, y2:p.iB, stroke:"#e2e2e2", "stroke-width":2, "stroke-dasharray":"8,6"}, ig);
    mk("line", {x1:ix(t), x2:ix(t), y1:p.iB, y2:p.iB+8, stroke:"#333", "stroke-width":2}, ig);
    const tx = mk("text", {x:ix(t), y:p.iB+45, "font-size":28, "text-anchor":"middle", fill:"#222"}, ig, String(t));
    
    
  });
  p.zyt.forEach(t => {
    mk("line", {x1:p.iL, x2:p.iR, y1:iy(t), y2:iy(t), stroke:"#e2e2e2", "stroke-width":2, "stroke-dasharray":"8,6"}, ig);
    mk("line", {x1:p.iL-8, x2:p.iL, y1:iy(t), y2:iy(t), stroke:"#333", "stroke-width":2}, ig);
    const tx = mk("text", {x:p.iL-12, y:iy(t)+10, "font-size":28, "text-anchor":"end", fill:"#222"}, ig, t.toFixed(p.zdec));
    
    
  });
  const isg = mk("g", {"clip-path":"url(#"+icId+")"}, ig);
  p.zoom.forEach((vals, si) => {
    const xs = zoomEpochs.slice(0, vals.length);
    const path = mk("path", {d:pathFrom(xs, vals, ix, iy), fill:"none", stroke:seriesColors[si], "stroke-width":5, "stroke-linejoin":"round"}, isg);
    
    
    for (let i=0;i<xs.length;i+=2){
      const c = mk("circle", {cx:ix(xs[i]), cy:iy(vals[i]), r:6, fill:seriesColors[si]}, isg);
      
      
    }
  });
  const ifr = mk("rect", {x:p.iL, y:p.iT, width:p.iR-p.iL, height:p.iB-p.iT, fill:"none", stroke:"#ff1010", "stroke-width":4}, ig);
  
  
  const it = mk("text", {x:p.itX, y:p.itY+11, "font-size":32, "font-weight":"bold", "text-anchor":"middle", fill:"#111"}, ig, "Final Epochs Zoom");
  
  
});
</script>
</body></html>
